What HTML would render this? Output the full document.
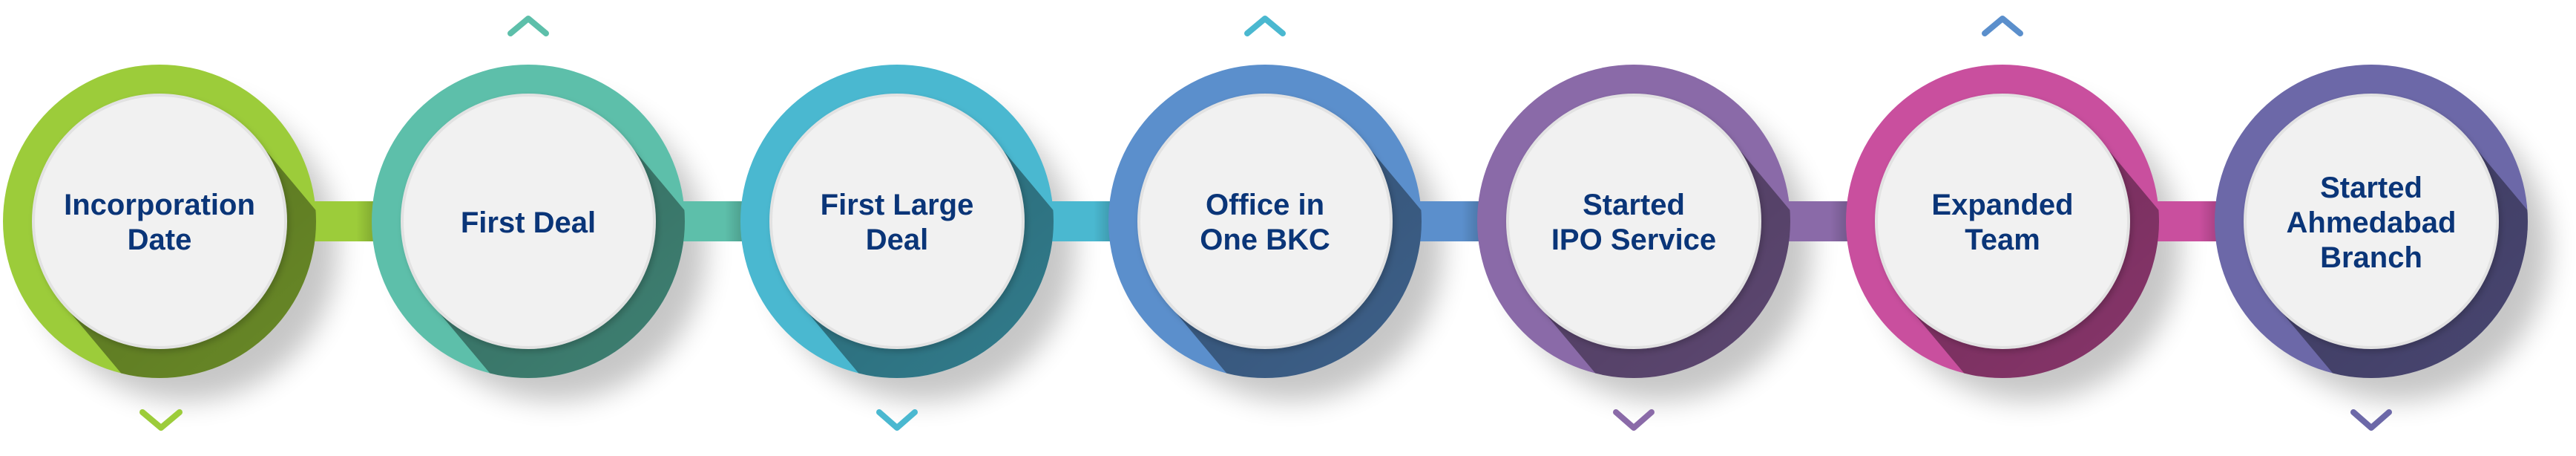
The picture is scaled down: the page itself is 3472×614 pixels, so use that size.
<!DOCTYPE html>
<html><head><meta charset="utf-8"><style>
html,body{margin:0;padding:0;background:#fff;width:3472px;height:614px;overflow:hidden;}
svg{display:block;}
text{font-family:"Liberation Sans",sans-serif;font-weight:bold;font-size:40px;fill:#0a3578;}
</style></head><body>
<svg width="3472" height="614" viewBox="0 0 3472 614" xmlns="http://www.w3.org/2000/svg">
<defs>
<filter id="blur" x="-50%" y="-50%" width="200%" height="200%"><feGaussianBlur stdDeviation="18"/></filter>
<filter id="ish" x="-20%" y="-20%" width="140%" height="140%"><feDropShadow dx="3" dy="4" stdDeviation="4" flood-color="#000" flood-opacity="0.18"/></filter>
<clipPath id="oc"><circle cx="0" cy="0" r="211"/></clipPath>
<linearGradient id="band" x1="0" y1="0" x2="1" y2="1.2" gradientUnits="objectBoundingBox">
<stop offset="0" stop-color="#000" stop-opacity="0.45"/>
<stop offset="0.6" stop-color="#000" stop-opacity="0.3"/>
<stop offset="1" stop-color="#000" stop-opacity="0.1"/>
</linearGradient>
<linearGradient id="barsh" x1="0" y1="0" x2="1" y2="0">
<stop offset="0" stop-color="#000" stop-opacity="0"/>
<stop offset="1" stop-color="#000" stop-opacity="0.35"/>
</linearGradient>
</defs>

<g filter="url(#blur)" fill="#000" opacity="0.22">
<circle cx="250" cy="335" r="205"/>
<circle cx="747" cy="335" r="205"/>
<circle cx="1244" cy="335" r="205"/>
<circle cx="1740" cy="335" r="205"/>
<circle cx="2237" cy="335" r="205"/>
<circle cx="2734" cy="335" r="205"/>
<circle cx="3231" cy="335" r="205"/>
</g>

<rect x="400" y="271" width="130" height="54" fill="#9ccc3a"/>
<rect x="897" y="271" width="130" height="54" fill="#5dbfaa"/>
<rect x="1394" y="271" width="130" height="54" fill="#4ab8d0"/>
<rect x="1890" y="271" width="130" height="54" fill="#5b8fcc"/>
<rect x="2387" y="271" width="130" height="54" fill="#8a6aa8"/>
<rect x="2884" y="271" width="130" height="54" fill="#c94f9e"/>
<g fill="url(#barsh)">
<rect x="480" y="271" width="50" height="54"/>
<rect x="977" y="271" width="50" height="54"/>
<rect x="1474" y="271" width="50" height="54"/>
<rect x="1970" y="271" width="50" height="54"/>
<rect x="2467" y="271" width="50" height="54"/>
<rect x="2964" y="271" width="50" height="54"/>
</g>

<g transform="translate(215,298)">
<circle r="211" fill="#9ccc3a"/>
<polygon clip-path="url(#oc)" points="131,-110 452,273 190,493 -131,110" fill="url(#band)"/>
<circle r="170" fill="#f1f1f1" stroke="#e2e2e2" stroke-width="4" filter="url(#ish)"/>
<text text-anchor="middle" dominant-baseline="central"><tspan x="0" y="-22">Incorporation</tspan><tspan x="0" y="25">Date</tspan></text>
</g>
<g transform="translate(712,298)">
<circle r="211" fill="#5dbfaa"/>
<polygon clip-path="url(#oc)" points="131,-110 452,273 190,493 -131,110" fill="url(#band)"/>
<circle r="170" fill="#f1f1f1" stroke="#e2e2e2" stroke-width="4" filter="url(#ish)"/>
<text text-anchor="middle" dominant-baseline="central"><tspan x="0" y="2">First Deal</tspan></text>
</g>
<g transform="translate(1209,298)">
<circle r="211" fill="#4ab8d0"/>
<polygon clip-path="url(#oc)" points="131,-110 452,273 190,493 -131,110" fill="url(#band)"/>
<circle r="170" fill="#f1f1f1" stroke="#e2e2e2" stroke-width="4" filter="url(#ish)"/>
<text text-anchor="middle" dominant-baseline="central"><tspan x="0" y="-22">First Large</tspan><tspan x="0" y="25">Deal</tspan></text>
</g>
<g transform="translate(1705,298)">
<circle r="211" fill="#5b8fcc"/>
<polygon clip-path="url(#oc)" points="131,-110 452,273 190,493 -131,110" fill="url(#band)"/>
<circle r="170" fill="#f1f1f1" stroke="#e2e2e2" stroke-width="4" filter="url(#ish)"/>
<text text-anchor="middle" dominant-baseline="central"><tspan x="0" y="-22">Office in</tspan><tspan x="0" y="25">One BKC</tspan></text>
</g>
<g transform="translate(2202,298)">
<circle r="211" fill="#8a6aa8"/>
<polygon clip-path="url(#oc)" points="131,-110 452,273 190,493 -131,110" fill="url(#band)"/>
<circle r="170" fill="#f1f1f1" stroke="#e2e2e2" stroke-width="4" filter="url(#ish)"/>
<text text-anchor="middle" dominant-baseline="central"><tspan x="0" y="-22">Started</tspan><tspan x="0" y="25">IPO Service</tspan></text>
</g>
<g transform="translate(2699,298)">
<circle r="211" fill="#c94f9e"/>
<polygon clip-path="url(#oc)" points="131,-110 452,273 190,493 -131,110" fill="url(#band)"/>
<circle r="170" fill="#f1f1f1" stroke="#e2e2e2" stroke-width="4" filter="url(#ish)"/>
<text text-anchor="middle" dominant-baseline="central"><tspan x="0" y="-22">Expanded</tspan><tspan x="0" y="25">Team</tspan></text>
</g>
<g transform="translate(3196,298)">
<circle r="211" fill="#6c68a8"/>
<polygon clip-path="url(#oc)" points="131,-110 452,273 190,493 -131,110" fill="url(#band)"/>
<circle r="170" fill="#f1f1f1" stroke="#e2e2e2" stroke-width="4" filter="url(#ish)"/>
<text text-anchor="middle" dominant-baseline="central"><tspan x="0" y="-45">Started</tspan><tspan x="0" y="2">Ahmedabad</tspan><tspan x="0" y="49">Branch</tspan></text>
</g>

<g fill="none" stroke-width="8" stroke-linecap="round" stroke-linejoin="round">
<polyline points="192,555 217,576 242,555" stroke="#9ccc3a"/>
<polyline points="688,45 712,25 736,45" stroke="#5dbfaa"/>
<polyline points="1185,555 1209,576 1233,555" stroke="#4ab8d0"/>
<polyline points="1681,45 1705,25 1729,45" stroke="#4ab8d0"/>
<polyline points="2178,555 2202,576 2226,555" stroke="#8a6aa8"/>
<polyline points="2675,45 2699,25 2723,45" stroke="#5b8fcc"/>
<polyline points="3172,555 3196,576 3220,555" stroke="#6c68a8"/>
</g>
</svg>
</body></html>
